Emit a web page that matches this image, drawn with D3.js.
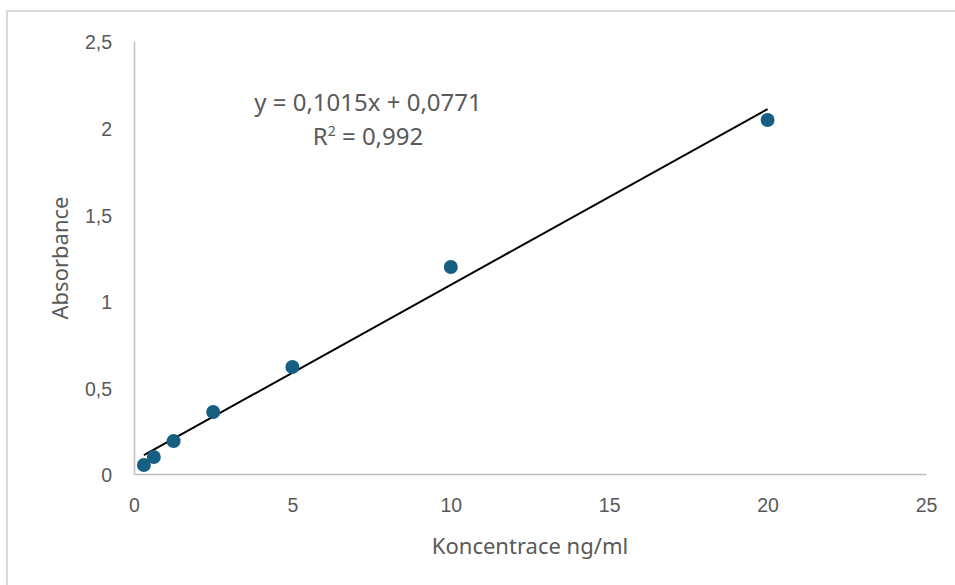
<!DOCTYPE html>
<html><head><meta charset="utf-8">
<script src="https://cdn.jsdelivr.net/npm/d3@7"></script>
<style>body{margin:0;background:#fff}svg{display:block}</style>
</head><body>
<script>
const concentrations = [0.3125, 0.625, 1.25, 2.5, 5, 10, 20];
const absorbances = [0.052, 0.098, 0.19, 0.358, 0.618, 1.195, 2.044];
const xTicks = [0, 5, 10, 15, 20, 25];
const yTicks = [0, 0.5, 1, 1.5, 2, 2.5];
const slope = 0.1015, intercept = 0.0771;
const equationText = "y = 0,1015x + 0,0771";
const r2Text = "0,992";
const xTitle = "Koncentrace ng/ml";
const yTitle = "Absorbance";

const W = 955, H = 585;
const svg = d3.select("body").append("svg").attr("width", W).attr("height", H);
// outer border
svg.append("rect").attr("x", 7).attr("y", 11).attr("width", W).attr("height", H)
  .attr("fill", "none").attr("stroke", "#d9d9d9").attr("stroke-width", 2);

const x = d3.scaleLinear().domain([0, 25]).range([134, 926]);
const y = d3.scaleLinear().domain([0, 2.5]).range([474, 41]);
const fmt = d => String(d).replace(".", ",");
const tickFont = "'Liberation Sans', Arial, sans-serif";
const titleFont = "'Noto Sans', 'Open Sans', sans-serif";

const gx = svg.append("g").attr("transform", `translate(0,${y(0)})`)
  .call(d3.axisBottom(x).tickValues(xTicks).tickSize(0).tickPadding(24).tickFormat(fmt));
const gy = svg.append("g").attr("transform", `translate(${x(0)},0)`)
  .call(d3.axisLeft(y).tickValues(yTicks).tickSize(0).tickPadding(22).tickFormat(fmt));
[gx, gy].forEach(g => {
  g.attr("font-size", null).attr("font-family", null);
  g.select(".domain").attr("stroke", "#bfbfbf").attr("stroke-width", 1.5);
  g.selectAll("text").attr("fill", "#595959").style("font-family", tickFont).style("font-size", "19.5px");
});
gy.selectAll("text").attr("dy", "0.4em");

// trendline
const lineX = d3.extent(concentrations);
svg.append("line")
  .attr("x1", x(lineX[0])).attr("y1", y(slope * lineX[0] + intercept))
  .attr("x2", x(lineX[1])).attr("y2", y(slope * lineX[1] + intercept))
  .attr("stroke", "#000").attr("stroke-width", 2);

// points
svg.selectAll("circle.pt").data(concentrations.map((c, i) => [c, absorbances[i]]))
  .enter().append("circle").attr("class", "pt")
  .attr("cx", d => x(d[0])).attr("cy", d => y(d[1])).attr("r", 7)
  .attr("fill", "#156082");

// equation
const eq = svg.append("g").attr("fill", "#595959").style("font-family", titleFont).style("font-size", "24px").attr("text-anchor", "middle");
eq.append("text").attr("x", 368).attr("y", 111).text(equationText);
const t2 = eq.append("text").attr("x", 368).attr("y", 145);
t2.append("tspan").text("R");
t2.append("tspan").attr("dy", -9).style("font-size", "14px").text("2");
t2.append("tspan").attr("dy", 9).text(" = " + r2Text);

// axis titles
svg.append("text").attr("x", 530).attr("y", 554).attr("text-anchor", "middle")
  .attr("fill", "#595959").style("font-family", titleFont).style("font-size", "22px").text(xTitle);
svg.append("text").attr("transform", "translate(68,258) rotate(-90)").attr("text-anchor", "middle")
  .attr("fill", "#595959").style("font-family", titleFont).style("font-size", "22px").text(yTitle);
</script>
</body></html>
